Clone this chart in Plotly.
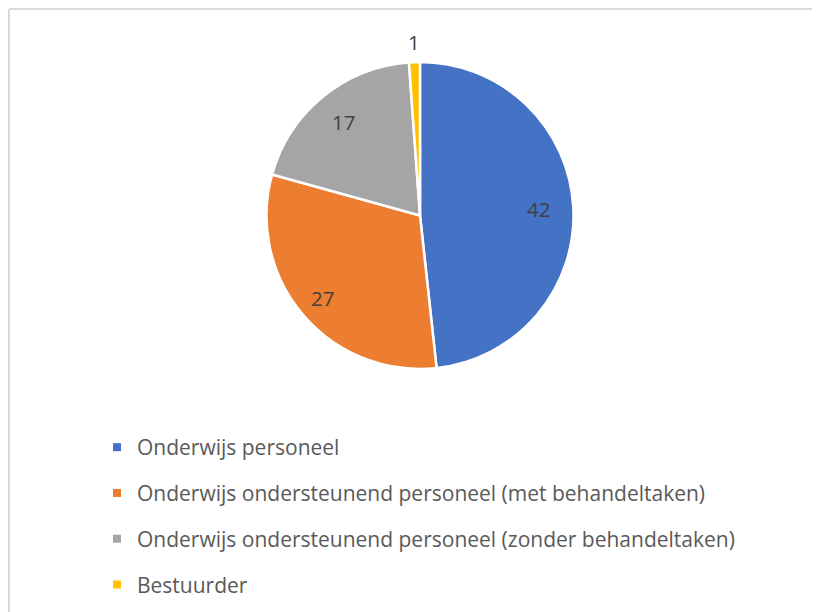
import math
import plotly.graph_objects as go

labels = ["Onderwijs personeel",
          "Onderwijs ondersteunend personeel (met behandeltaken)",
          "Onderwijs ondersteunend personeel (zonder behandeltaken)",
          "Bestuurder"]
values = [42, 27, 17, 1]
colors = ["#4472C4", "#ED7D31", "#A5A5A5", "#FFC000"]

# style: radial placement of the value labels (fraction of the radius)
label_radius = [0.77, 0.83, 0.79, 1.13]

W, H = 820, 612
FONT = "Open Sans"
CX, CY, R = 412, 207.5, 153.5   # pie centre / radius in figure pixels

fig = go.Figure()
fig.add_trace(go.Pie(
    labels=labels, values=values, sort=False, direction="clockwise", rotation=0,
    marker=dict(colors=colors, line=dict(color="white", width=2.5)),
    textinfo="none", showlegend=False, hoverinfo="label+value",
    domain=dict(x=[(CX - R) / W, (CX + R) / W], y=[1 - (CY + R) / H, 1 - (CY - R) / H]),
))

# value labels, placed at each slice's mid-angle
total = sum(values)
cum = 0
annotations = []
for v, fr in zip(values, label_radius):
    mid = (cum + v / 2) / total * 2 * math.pi
    cum += v
    px = CX + fr * R * math.sin(mid)
    py = CY - fr * R * math.cos(mid)
    annotations.append(dict(
        x=px / W, y=1 - py / H, xref="paper", yref="paper", text=str(v),
        showarrow=False, xanchor="center", yanchor="middle",
        font=dict(family=FONT, size=20.5, color="#404040"),
    ))

# legend entries (one group each so rows are spaced as in the reference)
for lab, col in zip(labels, colors):
    fig.add_trace(go.Scatter(
        x=[None], y=[None], mode="markers", name=lab, legendgroup=lab,
        marker=dict(symbol="square", size=8, color=col), showlegend=True,
        hoverinfo="skip",
    ))

fig.update_layout(
    width=W, height=H, margin=dict(l=0, r=0, t=0, b=0),
    paper_bgcolor="white", plot_bgcolor="white",
    xaxis=dict(visible=False), yaxis=dict(visible=False),
    annotations=annotations,
    legend=dict(x=89 / W, y=1 - 419 / H, xanchor="left", yanchor="top",
                font=dict(family=FONT, size=21, color="#595959"),
                tracegroupgap=15.5, itemwidth=30, bgcolor="rgba(0,0,0,0)"),
    shapes=[
        dict(type="line", xref="paper", yref="paper", x0=1 / W, x1=1 / W, y0=0, y1=1 - 1 / H,
             line=dict(color="#D9D9D9", width=2)),
        dict(type="line", xref="paper", yref="paper", x0=1 / W, x1=1, y0=1 - 1 / H, y1=1 - 1 / H,
             line=dict(color="#D9D9D9", width=2)),
    ],
)

fig.write_html("out.html")
